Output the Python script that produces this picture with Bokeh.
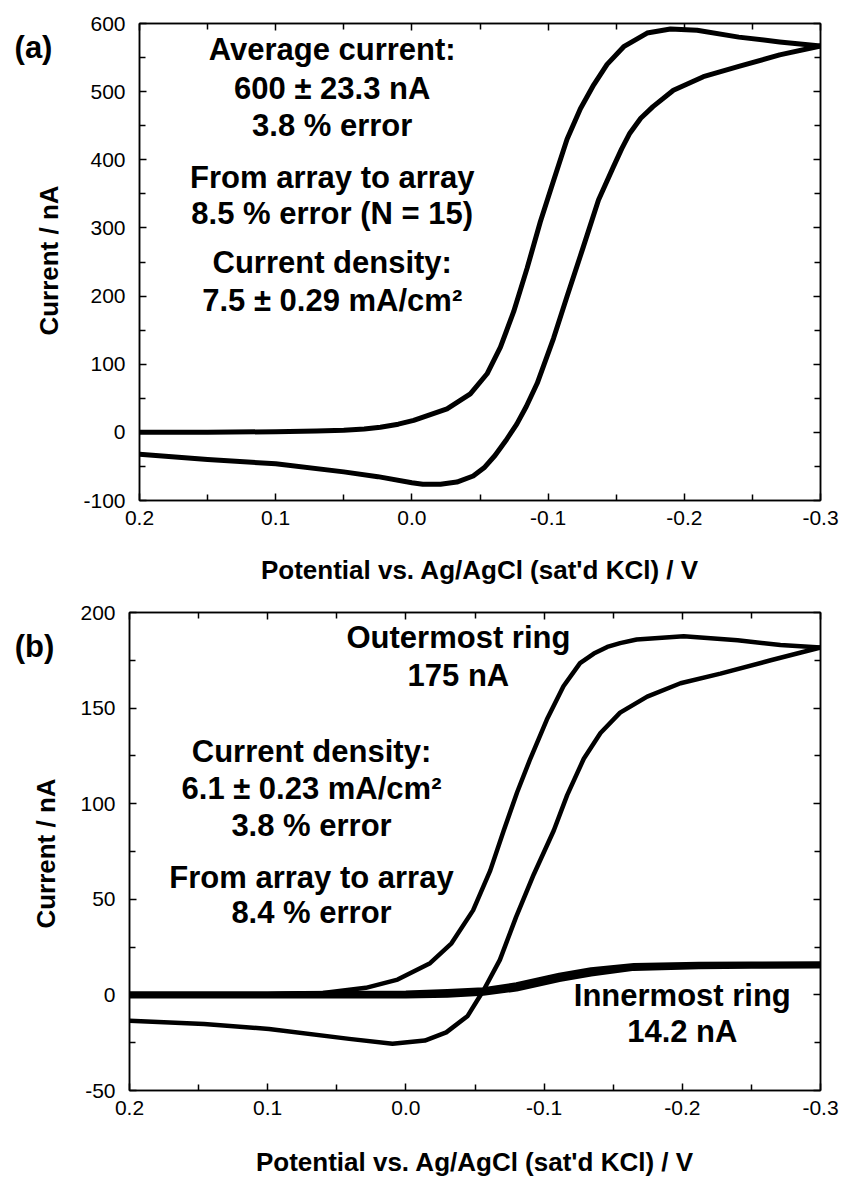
import math
from bokeh.plotting import figure
from bokeh.models import (Range1d, LinearAxis, FixedTicker, PrintfTickFormatter, Label,
                          CustomLabelingPolicy)
from bokeh.embed import file_html
from bokeh.resources import INLINE

# ---------------- data ----------------
# Panel (a): whole array, forward sweep (0.2 -> -0.3 V)
a_fwd_E = [0.2, 0.15, 0.1, 0.07, 0.05, 0.035, 0.0232, 0.01, -0.0013, -0.0258, -0.0429, -0.0552,
           -0.065, -0.0747, -0.0846, -0.0943, -0.1041, -0.1139, -0.1237, -0.1335, -0.1433,
           -0.1555, -0.1727, -0.1898, -0.2094, -0.24, -0.27, -0.3]
a_fwd_I = [0, 0, 1, 2, 3, 5, 7.6, 12, 17.5, 34.6, 56.6, 86,
           125, 177, 241, 309, 370, 430, 475, 510, 540,
           566, 586, 592, 590, 580, 573, 567]
# Panel (a): reverse sweep (-0.3 -> 0.2 V)
a_rev_E = [-0.3, -0.27, -0.24, -0.214, -0.192, -0.177, -0.168, -0.16, -0.154, -0.148, -0.137,
           -0.1255, -0.114, -0.104, -0.092, -0.084, -0.077, -0.069, -0.061, -0.053, -0.045,
           -0.033, -0.021, -0.008, 0.0, 0.025, 0.05, 0.1, 0.15, 0.2]
a_rev_I = [567, 554, 537, 522, 502, 478, 461, 439, 416, 390, 341,
           270, 200, 138, 72, 38, 12, -12, -34, -52, -64,
           -73, -76, -76, -74, -65, -58, -46, -40, -32]

# Panel (b): outermost ring
b_out_fwd_E = [0.2, 0.15, 0.1, 0.06, 0.029, 0.006, -0.0175, -0.033, -0.0486, -0.061, -0.0708,
               -0.0805, -0.09, -0.102, -0.114, -0.126, -0.136, -0.1457, -0.155, -0.167, -0.201,
               -0.24, -0.271, -0.3]
b_out_fwd_I = [0, 0, 0.3, 1, 3.7, 8, 16.6, 27, 44.2, 65, 86,
               106, 123.5, 144, 161.4, 173.5, 178.5, 182, 184, 185.9, 187.6,
               185.5, 183, 181.7]
b_out_rev_E = [-0.3, -0.264, -0.2276, -0.1987, -0.1746, -0.155, -0.1408, -0.1287, -0.1167, -0.107,
               -0.0925, -0.0797, -0.068, -0.0565, -0.0447, -0.0292, -0.0137, 0.0097, 0.041, 0.099, 0.146, 0.2]
b_out_rev_I = [181.7, 175, 168, 163, 156, 147.6, 137, 123.5, 104.5, 86,
               63, 40.7, 18.3, 2.8, -11, -19.6, -23.9, -25.6, -23, -17.8, -15.2, -13.5]

# Panel (b): innermost ring
b_in_fwd_E = [0.2, 0.1, 0.05, 0.0, -0.03, -0.056, -0.08, -0.111, -0.134, -0.165, -0.212, -0.25, -0.3]
b_in_fwd_I = [0.5, 0.5, 0.7, 0.9, 1.6, 2.6, 5.2, 10.2, 13.0, 15.2, 15.9, 16.0, 16.1]
b_in_rev_E = [-0.3, -0.25, -0.212, -0.165, -0.134, -0.111, -0.08, -0.056, -0.03, 0.0, 0.05, 0.1, 0.2]
b_in_rev_I = [15.3, 15.1, 14.8, 14.0, 11.0, 8.2, 3.2, 1.0, 0.0, -0.4, -0.5, -0.5, -0.5]

x_ticks = [0.2, 0.1, 0.0, -0.1, -0.2, -0.3]
x_minor = [0.15, 0.05, -0.05, -0.15, -0.25]
a_y_ticks = [-100, 0, 100, 200, 300, 400, 500, 600]
a_y_minor = [-50, 50, 150, 250, 350, 450, 550]
b_y_ticks = [-50, 0, 50, 100, 150, 200]
b_y_minor = [-25, 25, 75, 125, 175]

x_title = "Potential vs. Ag/AgCl (sat'd KCl) / V"
y_title = "Current / nA"

a_notes = ["Average current:", "600 \u00b1 23.3 nA", "3.8 % error",
           "From array to array", "8.5 % error (N = 15)",
           "Current density:", "7.5 \u00b1 0.29 mA/cm\u00b2"]
b_notes = ["Outermost ring", "175 nA",
           "Current density:", "6.1 \u00b1 0.23 mA/cm\u00b2", "3.8 % error",
           "From array to array", "8.4 % error",
           "Innermost ring", "14.2 nA"]

# ---------------- layout / style ----------------
FONT = "Liberation Sans"
a_note_x = [0.0585] * 7
a_note_y = [561.8, 505.3, 450.3, 374.0, 321.2, 249.3, 193.5]
b_note_x = [-0.038, -0.038, 0.0683, 0.0683, 0.0683, 0.0683, 0.0683, -0.2, -0.2]
b_note_y = [186.7, 167.0, 127.1, 108.0, 88.8, 61.4, 43.2, -0.3, -19.4]


def style_axis(ax, show_labels):
    ax.axis_line_color = "black"
    ax.axis_line_width = 1.5
    ax.major_tick_line_color = "black"
    ax.major_tick_line_width = 1.5
    ax.minor_tick_line_color = "black"
    ax.minor_tick_line_width = 1.5
    ax.major_tick_in = 7
    ax.major_tick_out = 0
    ax.minor_tick_in = 6
    ax.minor_tick_out = 0
    if show_labels:
        ax.major_label_text_font = FONT
        ax.major_label_text_font_size = "21px"
        ax.major_label_text_color = "black"
        ax.axis_label_text_font = FONT
        ax.axis_label_text_font_size = "26px"
        ax.axis_label_text_font_style = "bold"
        ax.axis_label_text_color = "black"
    else:
        ax.major_label_text_font_size = "0px"
        ax.major_label_standoff = 0
        ax.major_label_policy = CustomLabelingPolicy(code="return []")


def make_panel(height, yr, yt, ym, borders, curves, notes, nx, ny, tag, tag_xy, ytitle_xy,
               xtitle_standoff):
    bl, br, bt, bb = borders
    p = figure(width=842, height=height, x_range=Range1d(0.2, -0.3), y_range=Range1d(*yr),
               x_axis_type=None, y_axis_type=None, output_backend="svg",
               toolbar_location=None, min_border_left=bl, min_border_right=br,
               min_border_top=bt, min_border_bottom=bb)
    p.grid.visible = False
    p.outline_line_color = "black"
    p.outline_line_width = 1.5
    p.background_fill_color = "white"
    p.border_fill_color = "white"

    xb = LinearAxis(ticker=FixedTicker(ticks=x_ticks, minor_ticks=x_minor),
                    formatter=PrintfTickFormatter(format="%.1f"), axis_label=x_title)
    style_axis(xb, True)
    xb.major_label_standoff = 10
    xb.axis_label_standoff = xtitle_standoff
    p.add_layout(xb, "below")
    xa = LinearAxis(ticker=FixedTicker(ticks=x_ticks, minor_ticks=x_minor))
    style_axis(xa, False)
    p.add_layout(xa, "above")

    yl = LinearAxis(ticker=FixedTicker(ticks=yt, minor_ticks=ym),
                    formatter=PrintfTickFormatter(format="%d"))
    style_axis(yl, True)
    yl.major_label_standoff = 14
    p.add_layout(yl, "left")
    yr_ax = LinearAxis(ticker=FixedTicker(ticks=yt, minor_ticks=ym))
    style_axis(yr_ax, False)
    p.add_layout(yr_ax, "right")

    for (E, I, w) in curves:
        p.line(E, I, line_color="black", line_width=w, line_join="round", line_cap="round")

    for t, x, y in zip(notes, nx, ny):
        p.add_layout(Label(x=x, y=y, text=t, text_align="center", text_baseline="middle",
                           text_font=FONT, text_font_size="31px",
                           text_font_style="bold", text_color="black"))
    # texts outside the frame live in the left side panel so they are not clipped
    p.add_layout(Label(x=tag_xy[0], y=tag_xy[1], x_units="canvas", y_units="canvas",
                       text=tag, text_align="center", text_baseline="middle",
                       text_font=FONT, text_font_size="31px",
                       text_font_style="bold", text_color="black"), "left")
    p.add_layout(Label(x=ytitle_xy[0], y=ytitle_xy[1], x_units="canvas", y_units="canvas",
                       text=y_title, angle=math.pi / 2, text_align="center",
                       text_baseline="middle", text_font=FONT, text_font_size="26px",
                       text_font_style="bold", text_color="black"), "left")
    return p


pa = make_panel(590, (-100, 600), a_y_ticks, a_y_minor, (139, 22, 23, 90),
                [(a_fwd_E, a_fwd_I, 5), (a_rev_E, a_rev_I, 5)],
                a_notes, a_note_x, a_note_y, "(a)", (33, 47), (48, 260), 27)
pb = make_panel(589, (-50, 200), b_y_ticks, b_y_minor, (129, 22, 22, 86),
                [(b_out_fwd_E, b_out_fwd_I, 4.5), (b_out_rev_E, b_out_rev_I, 4.5),
                 (b_in_fwd_E, b_in_fwd_I, 5.5), (b_in_rev_E, b_in_rev_I, 5.5)],
                b_notes, b_note_x, b_note_y, "(b)", (34, 56), (45, 263), 29)

open("out.html", "w").write(file_html([pa, pb], INLINE))
